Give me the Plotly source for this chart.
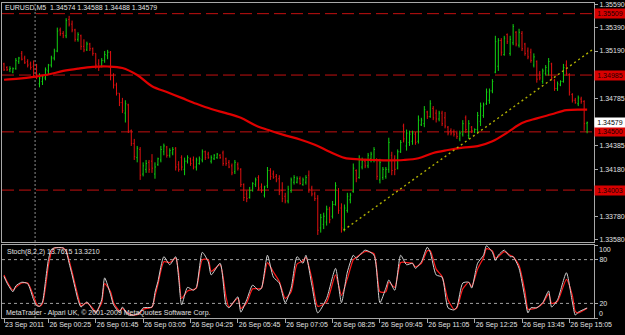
import plotly.graph_objects as go

# ---------------- data ----------------
open_ = [1.3508,1.3505,1.3503,1.3501,1.3504,1.3510,1.3517,1.3513,1.3510,1.3508,
1.3506,1.3499,1.3491,1.3493,1.3496,1.3502,1.3507,1.3513,1.3519,1.3537,
1.3534,1.3532,1.3546,1.3542,1.3537,1.3529,1.3532,1.3523,1.3520,1.3525,
1.3521,1.3517,1.3508,1.3506,1.3511,1.3515,1.3518,1.3498,1.3490,1.3483,
1.3475,1.3466,1.3473,1.3451,1.3440,1.3428,1.3435,1.3414,1.3418,1.3424,
1.3425,1.3414,1.3422,1.3426,1.3433,1.3437,1.3430,1.3432,1.3436,1.3422,
1.3428,1.3418,1.3425,1.3427,1.3426,1.3420,1.3423,1.3426,1.3433,1.3431,
1.3425,1.3427,1.3428,1.3430,1.3432,1.3427,1.3424,1.3421,1.3416,1.3422,
1.3418,1.3405,1.3397,1.3394,1.3400,1.3405,1.3411,1.3403,1.3396,1.3404,
1.3417,1.3414,1.3412,1.3410,1.3400,1.3395,1.3391,1.3400,1.3407,1.3407,
1.3410,1.3405,1.3407,1.3413,1.3402,1.3397,1.3393,1.3368,1.3371,1.3373,
1.3384,1.3378,1.3388,1.3400,1.3385,1.3367,1.3383,1.3392,1.3399,1.3417,
1.3411,1.3420,1.3425,1.3421,1.3427,1.3426,1.3427,1.3409,1.3411,1.3412,
1.3418,1.3430,1.3427,1.3419,1.3433,1.3455,1.3438,1.3441,1.3442,1.3448,
1.3442,1.3456,1.3457,1.3467,1.3463,1.3470,1.3466,1.3461,1.3466,1.3462,
1.3454,1.3451,1.3450,1.3449,1.3444,1.3448,1.3462,1.3447,1.3454,1.3450,
1.3452,1.3459,1.3464,1.3474,1.3477,1.3485,1.3501,1.3506,1.3528,1.3516,
1.3533,1.3517,1.3526,1.3535,1.3524,1.3534,1.3525,1.3519,1.3518,1.3507,
1.3510,1.3500,1.3493,1.3500,1.3502,1.3508,1.3494,1.3487,1.3490,1.3493,
1.3507,1.3499,1.3482,1.3477,1.3474,1.3478,1.3476,1.34574]

high = [1.3509,1.3506,1.3506,1.3505,1.3513,1.3514,1.3519,1.3515,1.3512,1.3510,
1.3511,1.3508,1.3500,1.3498,1.3505,1.3508,1.3515,1.3521,1.3539,1.3539,
1.3536,1.3547,1.3549,1.3545,1.3538,1.3535,1.3533,1.3529,1.3527,1.3526,
1.3522,1.3517,1.3512,1.3513,1.3519,1.3520,1.3519,1.3500,1.3492,1.3483,
1.3479,1.3477,1.3474,1.3452,1.3444,1.3438,1.3437,1.3424,1.3426,1.3426,
1.3431,1.3424,1.3428,1.3438,1.3440,1.3438,1.3436,1.3437,1.3437,1.3425,
1.3430,1.3428,1.3430,1.3428,1.3429,1.3428,1.3429,1.3435,1.3434,1.3433,
1.3430,1.3431,1.3432,1.3431,1.3434,1.3428,1.3426,1.3423,1.3426,1.3424,
1.3419,1.3406,1.3400,1.3403,1.3407,1.3411,1.3413,1.3406,1.3404,1.3420,
1.3419,1.3417,1.3414,1.3413,1.3407,1.3398,1.3404,1.3411,1.3413,1.3412,
1.3412,1.3411,1.3413,1.3417,1.3404,1.3399,1.3396,1.3380,1.3381,1.3387,
1.3386,1.3391,1.3407,1.3402,1.3389,1.3388,1.3398,1.3398,1.3423,1.3418,
1.3430,1.3428,1.3427,1.3432,1.3433,1.3437,1.3427,1.3427,1.3420,1.3420,
1.3445,1.3433,1.3430,1.3435,1.3443,1.3457,1.3452,1.3451,1.3451,1.3450,
1.3464,1.3462,1.3472,1.3468,1.3477,1.3472,1.3469,1.3468,1.3468,1.3467,
1.3455,1.3453,1.3452,1.3451,1.3451,1.3460,1.3464,1.3460,1.3455,1.3453,
1.3467,1.3475,1.3475,1.3487,1.3487,1.3495,1.3532,1.3530,1.3530,1.3532,
1.3534,1.3532,1.3542,1.3536,1.3538,1.3536,1.3526,1.3522,1.3521,1.3517,
1.3511,1.3502,1.3504,1.3507,1.3513,1.3509,1.3495,1.3493,1.3494,1.3508,
1.3511,1.3500,1.3483,1.3479,1.3481,1.3480,1.3477,1.34588]

low = [1.3502,1.3502,1.3501,1.3500,1.3503,1.3508,1.3511,1.3508,1.3505,1.3503,
1.3496,1.3495,1.3488,1.3490,1.3494,1.3499,1.3505,1.3511,1.3518,1.3532,
1.3530,1.3530,1.3540,1.3535,1.3527,1.3527,1.3520,1.3518,1.3519,1.3519,
1.3515,1.3504,1.3502,1.3505,1.3509,1.3512,1.3494,1.3487,1.3481,1.3472,
1.3466,1.3458,1.3449,1.3438,1.3426,1.3424,1.3409,1.3412,1.3415,1.3415,
1.3415,1.3410,1.3421,1.3424,1.3430,1.3428,1.3428,1.3430,1.3417,1.3416,
1.3417,1.3413,1.3423,1.3421,1.3418,1.3417,1.3422,1.3424,1.3426,1.3427,
1.3423,1.3426,1.3427,1.3427,1.3421,1.3421,1.3419,1.3413,1.3414,1.3417,
1.3403,1.3391,1.3390,1.3393,1.3399,1.3403,1.3400,1.3398,1.3394,1.3402,
1.3409,1.3410,1.3407,1.3396,1.3390,1.3389,1.3389,1.3398,1.3405,1.3406,
1.3405,1.3404,1.3405,1.3398,1.3395,1.3391,1.3362,1.3364,1.3367,1.3370,
1.3372,1.3376,1.3387,1.3380,1.3364,1.3365,1.3381,1.3389,1.3398,1.3407,
1.3410,1.3418,1.3419,1.3419,1.3424,1.3424,1.3409,1.3406,1.3409,1.3410,
1.3415,1.3413,1.3413,1.3418,1.3432,1.3441,1.3434,1.3438,1.3439,1.3439,
1.3440,1.3455,1.3454,1.3461,1.3462,1.3460,1.3458,1.3459,1.3455,1.3453,
1.3447,1.3447,1.3446,1.3444,1.3442,1.3446,1.3449,1.3444,1.3449,1.3449,
1.3449,1.3455,1.3462,1.3473,1.3474,1.3483,1.3500,1.3502,1.3515,1.3515,
1.3525,1.3515,1.3524,1.3523,1.3522,1.3519,1.3515,1.3512,1.3509,1.3505,
1.3492,1.3494,1.3491,1.3498,1.3498,1.3494,1.3485,1.3485,1.3489,1.3492,
1.3498,1.3481,1.3475,1.3474,1.3472,1.3474,1.3451,1.34488]

close = [1.3503,1.3503,1.3504,1.3504,1.3511,1.3513,1.3512,1.3509,1.3507,1.3505,
1.3498,1.3497,1.3496,1.3497,1.3503,1.3507,1.3513,1.3519,1.3536,1.3534,
1.3532,1.3545,1.3542,1.3537,1.3529,1.3533,1.3523,1.3520,1.3525,1.3521,
1.3517,1.3507,1.3505,1.3511,1.3516,1.3518,1.3498,1.3490,1.3483,1.3475,
1.3468,1.3474,1.3451,1.3440,1.3429,1.3436,1.3413,1.3421,1.3423,1.3418,
1.3419,1.3420,1.3427,1.3435,1.3438,1.3430,1.3434,1.3435,1.3420,1.3418,
1.3420,1.3425,1.3428,1.3423,1.3420,1.3426,1.3427,1.3433,1.3428,1.3428,
1.3428,1.3430,1.3431,1.3428,1.3423,1.3423,1.3420,1.3415,1.3424,1.3419,
1.3405,1.3394,1.3393,1.3400,1.3406,1.3409,1.3402,1.3400,1.3403,1.3417,
1.3412,1.3411,1.3409,1.3399,1.3393,1.3391,1.3401,1.3409,1.3411,1.3410,
1.3406,1.3409,1.3411,1.3401,1.3397,1.3393,1.3366,1.3377,1.3378,1.3384,
1.3375,1.3388,1.3404,1.3383,1.3368,1.3385,1.3395,1.3396,1.3419,1.3410,
1.3426,1.3425,1.3421,1.3430,1.3431,1.3435,1.3412,1.3424,1.3418,1.3418,
1.3441,1.3417,1.3418,1.3433,1.3441,1.3444,1.3449,1.3448,1.3449,1.3441,
1.3460,1.3460,1.3469,1.3463,1.3474,1.3462,1.3461,1.3466,1.3457,1.3455,
1.3449,1.3449,1.3448,1.3446,1.3449,1.3457,1.3452,1.3457,1.3451,1.3452,
1.3464,1.3472,1.3473,1.3484,1.3485,1.3493,1.3527,1.3528,1.3518,1.3530,
1.3527,1.3529,1.3540,1.3525,1.3535,1.3521,1.3517,1.3514,1.3511,1.3514,
1.3495,1.3496,1.3502,1.3505,1.3510,1.3496,1.3487,1.3491,1.3493,1.3505,
1.3500,1.3484,1.3477,1.3475,1.3479,1.3476,1.3457,1.34579]

# moving average (read at sampled bars)
ma_x = [0,5,10,15,20,25,30,35,40,45,50,55,60,65,70,75,80,85,90,95,100,105,110,115,
        120,125,130,135,140,145,150,155,160,165,170,175,180,185,190,195,197]
ma_y = [1.34945,1.34955,1.3497,1.3499,1.3502,1.3504,1.35055,1.35058,1.35045,1.34985,
        1.3489,1.3484,1.3479,1.3474,1.34695,1.3466,1.3462,1.34555,1.3451,1.3447,
        1.34435,1.3439,1.3433,1.34278,1.34265,1.3426,1.34257,1.3426,1.34275,1.3432,
        1.34345,1.34365,1.34378,1.3442,1.34494,1.34575,1.34615,1.3465,1.34685,1.3469,1.3469]

# horizontal price levels and trend line
levels = [1.35509, 1.34985, 1.34500, 1.34003]
last_price = 1.34579
trend_x = [114.7, 198.7]
trend_y = [1.3366, 1.3520]
day_break = [10.5]

# stochastic (8,2,2)
stoch_x = [0,1,3,4,6,8,10,11,12,13,14,15,16,17,20,21,22,23,25,26,28,30,31,33,34,36,37,39,40,42,
           44,46,47,50,51,52,54,56,58,59,60,62,64,65,67,69,70,73,75,76,79,80,82,84,86,87,89,91,93,95,
           97,99,101,102,104,106,109,112,114,116,118,119,122,125,127,129,130,132,134,136,138,139,141,
           143,144,146,148,150,152,153,155,157,158,160,162,163,165,166,167,169,171,172,174,176,177,
           178,180,182,184,185,187,190,192,193,194,197]
stoch_k = [57,48,36,44,49,47,25,17,16,22,50,80,94,96,96,91,75,59,25,15,22,11,7,25,55,32,18,8,15,4,
           4,8,14,15,35,50,84,73,84,55,18,42,38,42,90,77,59,75,18,14,29,8,25,45,38,41,86,56,48,21,
           41,84,75,86,45,7,27,68,21,63,86,82,93,86,21,41,52,38,86,73,75,68,77,97,90,59,56,14,11,15,
           48,49,41,75,86,99,90,79,86,93,84,84,68,27,7,14,14,21,37,15,25,62,22,4,8,13.76]
stoch_d = [59,50,38,42,48,48,30,19,16,20,42,72,90,96,96,92,79,63,30,17,21,13,8,21,47,36,21,10,13,6,
           4,7,12,15,30,46,77,76,82,62,27,37,39,41,80,80,64,73,29,15,27,13,21,40,40,41,76,63,50,27,
           36,74,78,83,54,16,22,59,31,54,80,83,91,88,36,36,49,42,76,76,75,70,75,92,92,67,57,25,12,14,
           40,49,43,67,83,95,92,82,84,91,86,84,72,36,12,12,14,20,33,20,23,53,31,9,7,13.32]
stoch_levels = [80, 20]

price_ticks = [1.35590, 1.35390, 1.35190, 1.34785, 1.34385, 1.34180, 1.33780, 1.33580]
time_ticks = [0, 15, 31, 47, 63, 79, 95, 111, 127, 143, 159, 175, 191]
time_labels = ["23 Sep 2011", "26 Sep 00:25", "26 Sep 01:45", "26 Sep 03:05", "26 Sep 04:25",
               "26 Sep 05:45", "26 Sep 07:05", "26 Sep 08:25", "26 Sep 09:45", "26 Sep 11:05",
               "26 Sep 12:25", "26 Sep 13:45", "26 Sep 15:05"]

# ---------------- style ----------------
FONT = "Liberation Sans, Arial, sans-serif"
TXT = "#e0e0e0"
AX = "#a8a8a8"
UP = "#12d012"
DOWN = "#e01010"
NB = "\u00a0"

bars = list(range(len(close)))
fig = go.Figure()
fig.add_trace(go.Ohlc(x=bars, open=open_, high=high, low=low, close=close,
                      increasing=dict(line=dict(color=UP, width=1)),
                      decreasing=dict(line=dict(color=DOWN, width=1)),
                      tickwidth=0.3, xaxis="x", yaxis="y", hoverinfo="skip"))
fig.add_trace(go.Scatter(x=ma_x, y=ma_y, mode="lines",
                         line=dict(color="#e00000", width=2.2, shape="spline"),
                         xaxis="x", yaxis="y", hoverinfo="skip"))
fig.add_trace(go.Scatter(x=trend_x, y=trend_y, mode="lines",
                         line=dict(color="#b0b000", width=1.4, dash="2px,3px"),
                         xaxis="x", yaxis="y", hoverinfo="skip"))
fig.add_trace(go.Scatter(x=stoch_x, y=stoch_d, mode="lines",
                         line=dict(color="#ff1a1a", width=1.2, shape="spline", smoothing=0.6),
                         xaxis="x2", yaxis="y2", hoverinfo="skip"))
fig.add_trace(go.Scatter(x=stoch_x, y=stoch_k, mode="lines",
                         line=dict(color="#d0d0d0", width=1, shape="spline", smoothing=0.6),
                         xaxis="x2", yaxis="y2", hoverinfo="skip"))

shapes = []
for lv in levels:
    shapes.append(dict(type="line", xref="paper", x0=0, x1=1, yref="y", y0=lv, y1=lv,
                       line=dict(color="#c41010", width=1, dash="12px,5px"), layer="below"))
for lv in stoch_levels:
    shapes.append(dict(type="line", xref="paper", x0=0, x1=1, yref="y2", y0=lv, y1=lv,
                       line=dict(color="#a0a0a0", width=1, dash="3px,3px"), layer="below"))
for db in day_break:
    shapes.append(dict(type="line", xref="x", x0=db, x1=db, yref="paper", y0=0, y1=1,
                       line=dict(color="#8c8c8c", width=1, dash="2px,2px"), layer="below"))

annotations = [
    dict(text=f"EURUSD,M5{NB}{NB}1.34574 1.34588 1.34488 1.34579", xref="paper", x=0, xanchor="left",
         xshift=1, yref="paper", y=1, yanchor="top", yshift=1, showarrow=False,
         font=dict(family=FONT, size=7, color=TXT)),
    dict(text="Stoch(8,2,2) 13.7615 13.3210", xref="paper", x=0, xanchor="left", xshift=3,
         yref="y2", y=100, yanchor="top", yshift=-1, showarrow=False,
         font=dict(family=FONT, size=7, color=TXT)),
    dict(text="MetaTrader - Alpari UK, © 2001-2009 MetaQuotes Software Corp.", xref="paper", x=0,
         xanchor="left", xshift=2, yref="y2", y=0, yanchor="bottom", yshift=-1, showarrow=False,
         font=dict(family=FONT, size=7, color=TXT)),
    dict(text="100", xref="paper", x=1, xanchor="left", xshift=3, yref="y2", y=100,
         yanchor="top", yshift=1, showarrow=False, font=dict(family=FONT, size=7, color=TXT)),
    dict(text="0", xref="paper", x=1, xanchor="left", xshift=3, yref="y2", y=0,
         yanchor="bottom", yshift=-1, showarrow=False, font=dict(family=FONT, size=7, color=TXT)),
]
for lv in levels:
    annotations.append(dict(text=f"{lv:.5f}", xref="paper", x=1, xanchor="left", xshift=0,
                            yref="y", y=lv, yanchor="middle", showarrow=False, bgcolor="#d80000",
                            width=30, height=9, borderpad=0, align="center",
                            font=dict(family=FONT, size=7, color="#1a0000")))
annotations.append(dict(text=f"{last_price:.5f}", xref="paper", x=1, xanchor="left", xshift=0,
                        yref="y", y=last_price, yanchor="middle", showarrow=False, bgcolor="#ffffff",
                        width=30, height=9, borderpad=0, align="center",
                        font=dict(family=FONT, size=7, color="#000000")))

xr = [-0.68, 199.32]
axfont = dict(family=FONT, size=7, color=TXT)
fig.update_layout(
    width=625, height=335, margin=dict(l=2, r=31, t=3, b=17, autoexpand=False),
    paper_bgcolor="#000000", plot_bgcolor="#000000", showlegend=False, hovermode=False,
    xaxis=dict(domain=[0, 1], range=xr, anchor="y", showticklabels=False, ticks="",
               showgrid=False, zeroline=False, showline=True, mirror=True, linecolor=AX,
               linewidth=1, rangeslider=dict(visible=False), automargin=False),
    yaxis=dict(domain=[0.2413, 1], range=[1.3356, 1.3560], side="right", anchor="x",
               tickvals=price_ticks, ticktext=[f"{v:.5f}" for v in price_ticks],
               ticks="outside", ticklen=3, tickcolor=AX, tickfont=axfont, showgrid=False,
               zeroline=False, showline=True, mirror=True, linecolor=AX, linewidth=1,
               automargin=False),
    xaxis2=dict(domain=[0, 1], range=xr, anchor="y2", tickvals=time_ticks, ticktext=time_labels,
                ticks="outside", ticklen=4, tickcolor=AX, tickfont=axfont, tickangle=0,
                ticklabelposition="outside right", showgrid=False, zeroline=False,
                showline=True, mirror=True, linecolor=AX, linewidth=1, automargin=False),
    yaxis2=dict(domain=[0, 0.2317], range=[0, 100], side="right", anchor="x2",
                tickvals=[0, 20, 80, 100], ticktext=["", "20", "80", ""],
                ticks="outside", ticklen=3, tickcolor=AX, tickfont=axfont, showgrid=False,
                zeroline=False, showline=True, mirror=True, linecolor=AX, linewidth=1,
                automargin=False),
    shapes=shapes, annotations=annotations,
)

fig.write_html("out.html")
